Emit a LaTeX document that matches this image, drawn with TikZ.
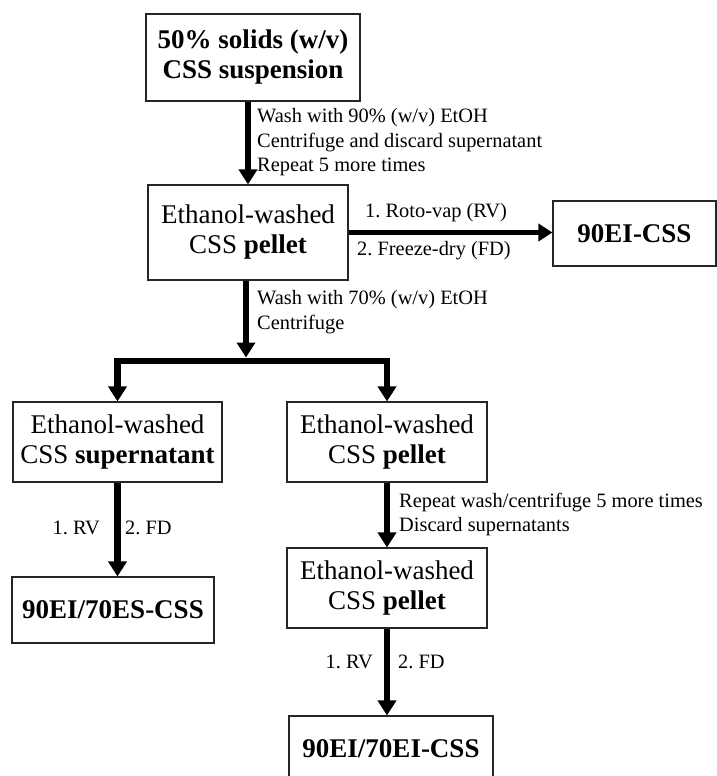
\documentclass[tikz,border=0pt]{standalone}
\usepackage{fontspec}
\setmainfont{Liberation Serif}
\usetikzlibrary{arrows.meta}
\frenchspacing
\begin{document}
\begin{tikzpicture}[x=1pt,y=-1pt,
  box/.style={draw=black!85, line width=1.1pt, inner sep=0pt, align=center,
    font=\fontsize{27}{30}\selectfont},
  lbl/.style={inner sep=0pt, align=left, font=\fontsize{20.4}{24.5}\selectfont},
  arr/.style={line width=6.5pt, -{Triangle[width=18pt,length=15pt]}},
  arrb/.style={line width=6.5pt, line join=miter,
    {Triangle[width=18pt,length=15pt]}-{Triangle[width=18pt,length=15pt]}}]
\useasboundingbox (0,0) rectangle (717,776);
% boxes
\node[box, minimum width=214pt, minimum height=87pt] (top) at (253,57.5)
  {\textbf{50\% solids (w/v)}\\\textbf{CSS suspension}};
\node[box, minimum width=200pt, minimum height=95pt] (b2) at (248,232.5)
  {Ethanol-washed\\CSS \textbf{pellet}};
\node[box, minimum width=163pt, minimum height=65pt] (ei) at (634.5,233.5)
  {\textbf{90EI-CSS}};
\node[box, minimum width=209pt, minimum height=80pt] (sup) at (117.5,442)
  {Ethanol-washed\\CSS \textbf{supernatant}};
\node[box, minimum width=200pt, minimum height=80pt] (pel) at (387,442)
  {Ethanol-washed\\CSS \textbf{pellet}};
\node[box, minimum width=202pt, minimum height=66pt] (es) at (113,610)
  {\textbf{90EI/70ES-CSS}};
\node[box, minimum width=200pt, minimum height=80pt] (pel2) at (387,588)
  {Ethanol-washed\\CSS \textbf{pellet}};
\node[box, minimum width=204pt, minimum height=66pt] (bb) at (391,749)
  {\textbf{90EI/70EI-CSS}};
% junction
\coordinate (j) at (246,361);
% connectors
\draw[arr] (top.south -| b2.north) -- (b2.north);
\draw[arr, line width=5.5pt, -{Triangle[width=17pt,length=14pt]}] (b2.east) -- (b2.east -| ei.west);
\draw[arr, shorten >=3.5pt] (b2.south -| j) -- (j);
\draw[arrb] (sup.north) -- (sup.north |- j) -- (pel.north |- j) -- (pel.north);
\draw[arr] (sup.south) -- (sup.south |- es.north);
\draw[arr] (pel.south) -- (pel2.north);
\draw[arr] (pel2.south) -- (pel2.south |- bb.north);
% labels
\node[lbl, anchor=west] (t1) at (257,142.5)
  {Wash with 90\% (w/v) EtOH\\Centrifuge and discard supernatant\\Repeat 5 more times};
\node[lbl, anchor=west] (t2) at (365,213) {1. Roto-vap (RV)};
\node[lbl, anchor=west] (t3) at (357,251) {2. Freeze-dry (FD)};
\node[lbl, anchor=west] (t4) at (257,312) {Wash with 70\% (w/v) EtOH\\Centrifuge};
\node[lbl, anchor=east] (t5) at (100,528) {1. RV};
\node[lbl, anchor=west] (t6) at (125,528) {2. FD};
\node[lbl, anchor=west] (t7) at (399,514.5) {Repeat wash/centrifuge 5 more times\\Discard supernatants};
\node[lbl, anchor=east] (t8) at (373,662) {1. RV};
\node[lbl, anchor=west] (t9) at (398,662) {2. FD};
\end{tikzpicture}
\end{document}
